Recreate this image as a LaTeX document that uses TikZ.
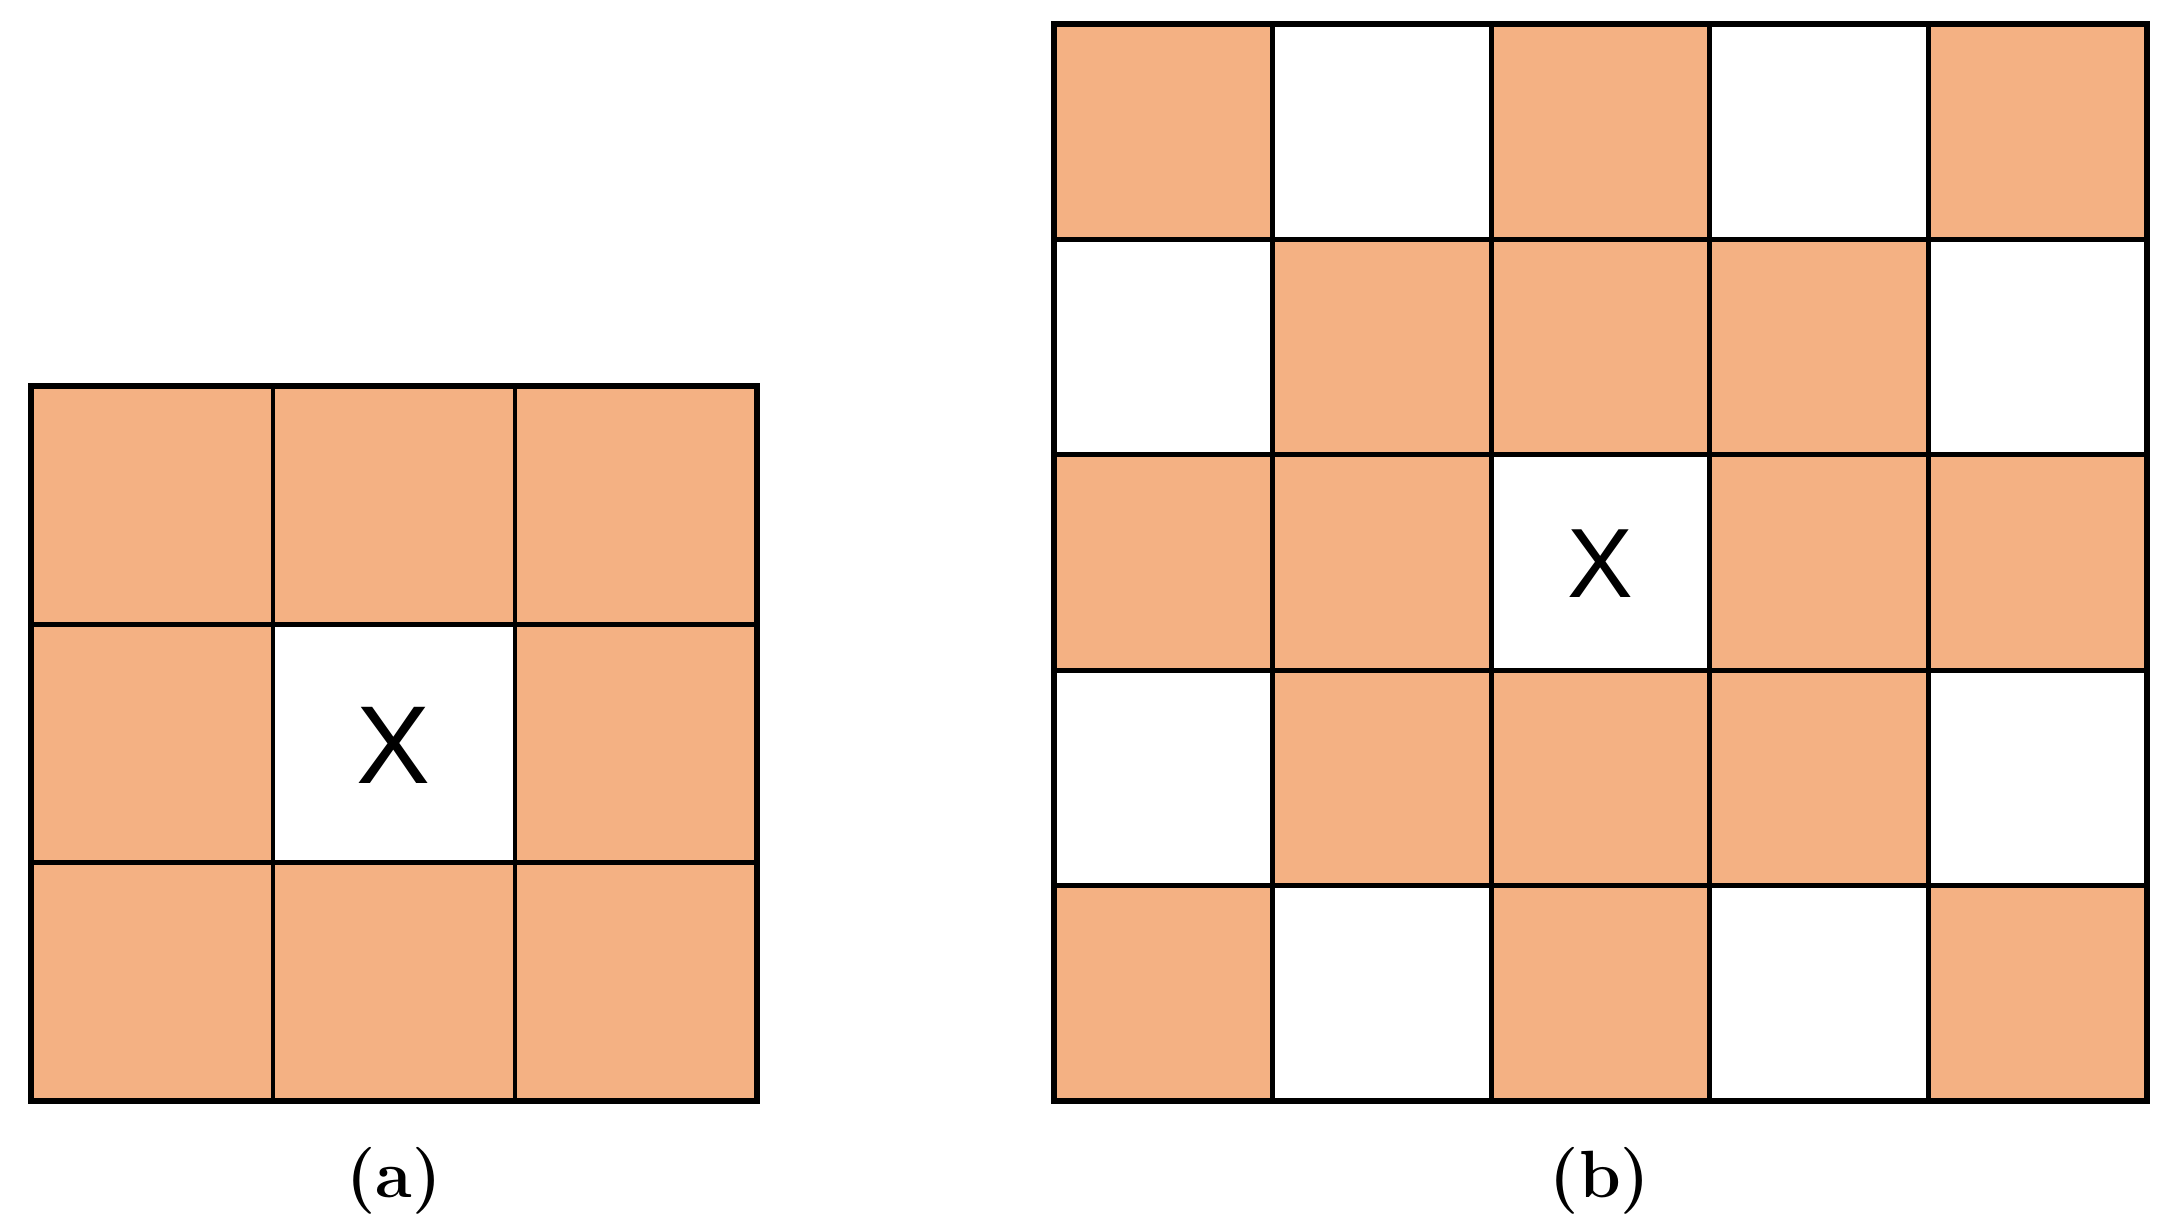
\documentclass[tikz,border=0pt]{standalone}
\usepackage{fontspec}
\newfontfamily\cellfont{Liberation Sans}
\definecolor{cellfill}{RGB}{244,177,131}

\begin{document}
\begin{tikzpicture}[x=0.01cm,y=0.01cm]
    \tikzset{gridline/.style={line width=1.35pt,black},
             frame/.style={line width=1.7pt,black},
             centre/.style={font=\cellfont\fontsize{28}{28}\selectfont,inner sep=0pt},
             caption/.style={font=\fontsize{19}{19}\selectfont\bfseries,inner sep=0pt}}
    \useasboundingbox (0,0) rectangle (2184,1230);
    % (a) 3x3
    \fill[cellfill] (31,129) rectangle (757,844);
    \fill[white] (273,367.3) rectangle (515,605.7);
    \foreach \i in {1,2} {
        \draw[gridline] (31+242*\i,129) -- (31+242*\i,844);
        \draw[gridline] (31,129+238.3*\i) -- (757,129+238.3*\i);
    }
    \draw[frame] (31,129) rectangle (757,844);
    \node[centre,font=\cellfont\fontsize{31.5}{31.5}\selectfont] (Xa) at (393,484.5) {X};
    \node[caption] (capa) at (394,49) {(a)};
    % (b) 5x5
    \fill[cellfill] (1054,129) rectangle (2147,1206);
    \foreach \c/\r in {2/1,4/1,1/2,5/2,3/3,1/4,5/4,2/5,4/5}
        \fill[white] (1054+218.6*\c-218.6,1206-215.4*\r) rectangle +(218.6,215.4);
    \foreach \i in {1,...,4} {
        \draw[gridline] (1054+218.6*\i,129) -- (1054+218.6*\i,1206);
        \draw[gridline] (1054,129+215.4*\i) -- (2147,129+215.4*\i);
    }
    \draw[frame] (1054,129) rectangle (2147,1206);
    \node[centre] (Xb) at (1600.5,666) {X};
    \node[caption] (capb) at (1600,49) {(b)};
\end{tikzpicture}
\end{document}
